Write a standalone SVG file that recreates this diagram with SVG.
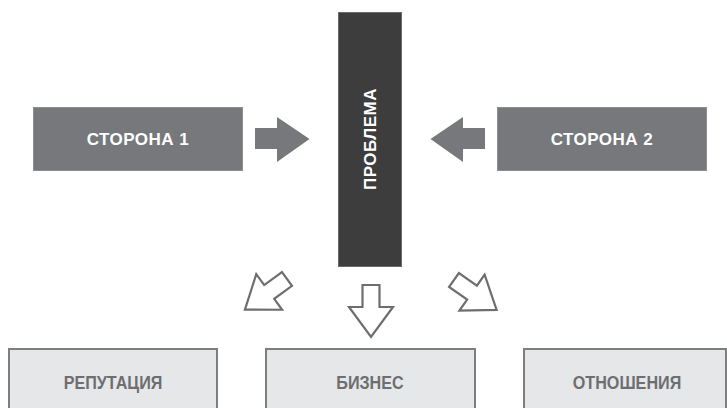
<svg xmlns="http://www.w3.org/2000/svg" width="727" height="408" viewBox="0 0 727 408">
<defs>
<style>
.side{fill:#77787b;stroke:#8c8d90;stroke-width:1}
.prob{fill:#3d3d3e;stroke:#6a6a6b;stroke-width:1}
.res{fill:#e6e7e8;stroke:#7d7e80;stroke-width:2}
.wt{font-family:"Liberation Sans",Arial,sans-serif;font-weight:bold;fill:#ffffff;font-size:17px;letter-spacing:0.5px;text-anchor:middle}
.gt{font-family:"Liberation Sans",Arial,sans-serif;font-weight:bold;fill:#6d6e71;font-size:19px;text-anchor:middle}
.fa{fill:#77787b}
.ha{fill:#ffffff;stroke:#6d6e71;stroke-width:2.2;stroke-linejoin:miter}
</style>
<polygon id="hollow" points="-8.5,0 8.5,0 8.5,22 22,22 0,52 -22,22 -8.5,22"/>
</defs>
<g id="side1">
<rect class="side" x="33.5" y="107.5" width="209" height="63"/>
<text class="wt" x="138" y="145">СТОРОНА 1</text>
</g>
<g id="side2">
<rect class="side" x="497.5" y="107.5" width="209" height="63"/>
<text class="wt" x="602" y="145">СТОРОНА 2</text>
</g>
<g id="problem">
<rect class="prob" x="338.5" y="12.5" width="63" height="254"/>
<text class="wt" transform="translate(376,139) rotate(-90)" x="0" y="0">ПРОБЛЕМА</text>
</g>
<g id="reputation">
<rect class="res" x="9" y="349" width="208" height="70"/>
<text class="gt" transform="translate(113,389) scale(0.85,1)" x="0" y="0">РЕПУТАЦИЯ</text>
</g>
<g id="business">
<rect class="res" x="266" y="349" width="209" height="70"/>
<text class="gt" transform="translate(370,389) scale(0.85,1)" x="0" y="0">БИЗНЕС</text>
</g>
<g id="relations">
<rect class="res" x="524" y="349" width="202" height="70"/>
<text class="gt" transform="translate(627,389) scale(0.85,1)" x="0" y="0">ОТНОШЕНИЯ</text>
</g>
<g id="connectors">
<polygon class="fa" points="255,128 277,128 277,117 309.5,139 277,162 277,149 255,149"/>
<polygon class="fa" points="485,128 463,128 463,117 430.5,139 463,162 463,149 485,149"/>
<use href="#hollow" class="ha" transform="translate(287,279) rotate(54)"/>
<use href="#hollow" class="ha" transform="translate(371,285)"/>
<use href="#hollow" class="ha" transform="translate(454,280) rotate(-55)"/>
</g>
</svg>
